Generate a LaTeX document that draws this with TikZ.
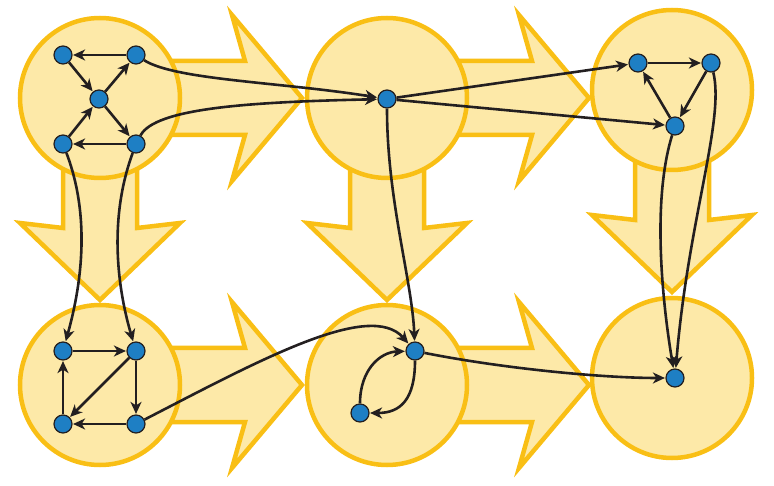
\documentclass[tikz,border=0pt]{standalone}
\usetikzlibrary{arrows.meta}
\definecolor{bfill}{HTML}{FDE9A8}
\definecolor{bline}{HTML}{F9BF15}
\definecolor{nblue}{HTML}{1E7FC4}
\definecolor{edgec}{HTML}{231F20}
\tikzset{
  big/.style={fill=bfill,draw=bline,line width=4.5pt,line join=miter},
  node/.style={circle,fill=nblue,draw=edgec,line width=1.2pt,minimum size=18pt,inner sep=0pt},
  e/.style={draw=edgec,line width=2.6pt,-{Stealth[length=12pt,width=11pt,inset=3.5pt]},shorten >=0.5pt},
}
\newcommand{\harrow}[2]{\draw[big] (#1+50,#2-37) -- (#1+145,#2-37) -- (#1+132,#2-83) -- (#1+202,#2) -- (#1+132,#2+83) -- (#1+145,#2+37) -- (#1+50,#2+37) -- cycle;}
\newcommand{\varrow}[2]{\draw[big] (#1-37,#2+50) -- (#1-37,#2+130) -- (#1-80,#2+125) -- (#1,#2+202) -- (#1+80,#2+125) -- (#1+37,#2+130) -- (#1+37,#2+50) -- cycle;}
\begin{document}
\begin{tikzpicture}[x=1pt,y=-1pt]
\useasboundingbox (0,0) rectangle (774,486);
\varrow{100}{98}
\varrow{387}{98}
\varrow{672}{90}
\harrow{100}{98}
\harrow{387}{98}
\harrow{100}{385}
\harrow{387}{385}
\foreach \x/\y in {100/98,387/98,672/90,100/385,387/385,672/378}
  \draw[big] (\x,\y) circle (80);
\node[node] (a) at (63,55) {};
\node[node] (b) at (136,55) {};
\node[node] (c) at (99,99) {};
\node[node] (d) at (63,144) {};
\node[node] (e) at (136,144) {};
\node[node] (f) at (387,99) {};
\node[node] (g) at (638,63) {};
\node[node] (h) at (711,63) {};
\node[node] (i) at (675,126) {};
\node[node] (j) at (63,351) {};
\node[node] (k) at (136,351) {};
\node[node] (l) at (63,424) {};
\node[node] (m) at (136,424) {};
\node[node] (n) at (415,351) {};
\node[node] (o) at (360,413) {};
\node[node] (p) at (675,378) {};
\draw[e] (b) -- (a);
\draw[e] (a) -- (c);
\draw[e] (c) -- (b);
\draw[e] (c) -- (e);
\draw[e] (e) -- (d);
\draw[e] (d) -- (c);
\draw[e] (g) -- (h);
\draw[e] (h) -- (i);
\draw[e] (i) -- (g);
\draw[e] (j) -- (k);
\draw[e] (k) -- (m);
\draw[e] (k) -- (l);
\draw[e] (m) -- (l);
\draw[e] (l) -- (j);
\draw[e] (b) .. controls (175,80) and (280,82) .. (f);
\draw[e] (e) .. controls (155,108) and (250,102) .. (f);
\draw[e] (f) -- (g);
\draw[e] (f) -- (i);
\draw[e] (d) .. controls (92,220) and (80,290) .. (j);
\draw[e] (e) .. controls (108,220) and (118,290) .. (k);
\draw[e] (f) .. controls (387,200) and (412,280) .. (n);
\draw[e] (m) .. controls (260,360) and (370,300) .. (n);
\draw[e] (n) .. controls (500,368) and (600,378) .. (p);
\draw[e] (i) .. controls (652,200) and (662,300) .. (p);
\draw[e] (h) .. controls (725,120) and (688,220) .. (p);
\draw[e] (n) .. controls (415,400) and (400,413) .. (o);
\draw[e] (o) .. controls (360,370) and (380,352) .. (n);
\end{tikzpicture}
\end{document}
